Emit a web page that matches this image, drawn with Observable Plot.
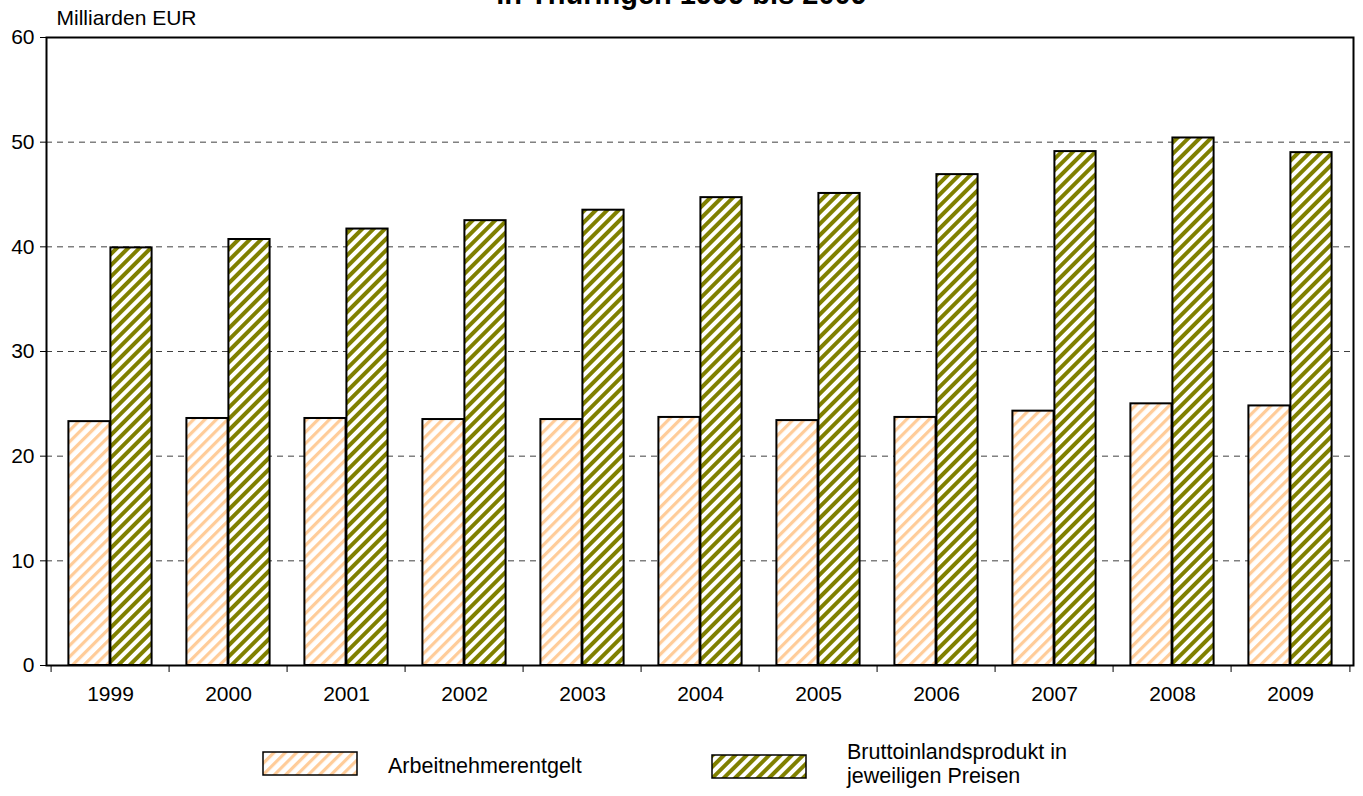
<!DOCTYPE html>
<html><head><meta charset="utf-8">
<script src="https://cdn.jsdelivr.net/npm/d3@7"></script>
<script src="https://cdn.jsdelivr.net/npm/@observablehq/plot@0.6"></script>
<style>
html,body{margin:0;padding:0;background:#fff}
body{width:1363px;height:796px;overflow:hidden;position:relative;font-family:"Liberation Sans",Arial,sans-serif;color:#000}
#title{position:absolute;left:0;width:1363px;text-align:center;top:-20px;font-weight:bold;font-size:29px;line-height:28px;white-space:nowrap}
#chart{position:absolute;left:0;top:0}
.sw{position:absolute}
.lt{position:absolute;font-size:21.5px;white-space:nowrap}
</style>
</head><body>
<svg width="0" height="0" style="position:absolute">
  <defs>
    <pattern id="pA" patternUnits="userSpaceOnUse" width="8" height="8" patternTransform="rotate(45)">
      <rect x="0" y="0" width="8" height="8" fill="#fff"/>
      <rect x="0" y="0" width="3.2" height="8" fill="#FFCC99"/>
    </pattern>
    <pattern id="pB" patternUnits="userSpaceOnUse" width="8" height="8" patternTransform="rotate(45)">
      <rect x="0" y="0" width="8" height="8" fill="#fff"/>
      <rect x="0" y="0" width="4" height="8" fill="#808000"/>
    </pattern>
  </defs>
</svg>
<div id="title">in Thüringen 1999 bis 2009</div>
<div id="chart"></div>
<svg class="sw" style="left:262px;top:751px" width="96" height="25"><rect x="1" y="1" width="94" height="23" fill="url(#pA)" stroke="#000" stroke-width="1.5"/></svg>
<div class="lt" style="left:388px;top:754px;line-height:24px">Arbeitnehmerentgelt</div>
<svg class="sw" style="left:711px;top:754px" width="96" height="25"><rect x="1" y="1" width="94" height="23" fill="url(#pB)" stroke="#000" stroke-width="1.5"/></svg>
<div class="lt" style="left:847px;top:741px;line-height:23.5px">Bruttoinlandsprodukt in<br>jeweiligen Preisen</div>
<script>
const years = ["1999","2000","2001","2002","2003","2004","2005","2006","2007","2008","2009"];
const arbeitnehmerentgelt = [23.3,23.6,23.6,23.5,23.5,23.7,23.4,23.7,24.3,25.0,24.8];
const bip = [39.9,40.7,41.7,42.5,43.5,44.7,45.1,46.9,49.1,50.4,49.0];
const yTicks = [0,10,20,30,40,50,60];
const gridTicks = [10,20,30,40,50];

const W = 1363, H = 715, mL = 46, mR = 10, mT = 37, mB = 50;
const bw = (W - mL - mR) / years.length;
const barW = 42;
const outer = (bw - 2 * barW) / 2;

const rowsA = years.map((y, i) => ({year: y, value: arbeitnehmerentgelt[i]}));
const rowsB = years.map((y, i) => ({year: y, value: bip[i]}));

const chart = Plot.plot({
  width: W, height: H,
  marginLeft: mL, marginRight: mR, marginTop: mT, marginBottom: mB,
  style: {fontFamily: "'Liberation Sans', Arial, sans-serif", fontSize: "21px", color: "#000", background: "transparent", overflow: "visible"},
  x: {type: "band", domain: years, paddingInner: 0, paddingOuter: 0},
  y: {domain: [0, 60]},
  marks: [
    Plot.gridY(gridTicks, {stroke: "#000", strokeOpacity: 0.75, strokeDasharray: "6,5", strokeWidth: 1}),
    Plot.barY(rowsA, {x: "year", y: "value", fill: "url(#pA)", stroke: "#000", strokeWidth: 2, insetLeft: outer, insetRight: outer + barW}),
    Plot.barY(rowsB, {x: "year", y: "value", fill: "url(#pB)", stroke: "#000", strokeWidth: 2, insetLeft: outer + barW, insetRight: outer}),
    Plot.frame({stroke: "#000", strokeWidth: 2}),
    Plot.axisY(yTicks, {tickSize: 6, tickPadding: 6, fontSize: 21, label: null, stroke: "#000"}),
    Plot.axisX({tickSize: 0, tickPadding: 21, fontSize: 21, label: null}),
    Plot.ruleX(years, {x: d => d, dx: -bw / 2, y1: 0, y2: 0, insetBottom: -7, stroke: "#000", strokeWidth: 1}),
    Plot.ruleX([years[years.length - 1]], {x: d => d, dx: bw / 2, y1: 0, y2: 0, insetBottom: -7, stroke: "#000", strokeWidth: 1}),
    Plot.text(["Milliarden EUR"], {frameAnchor: "top-left", dx: 10, dy: -27, textAnchor: "start", fontSize: 21, fill: "#000"})
  ]
});
document.getElementById("chart").appendChild(chart);
</script>
</body></html>
